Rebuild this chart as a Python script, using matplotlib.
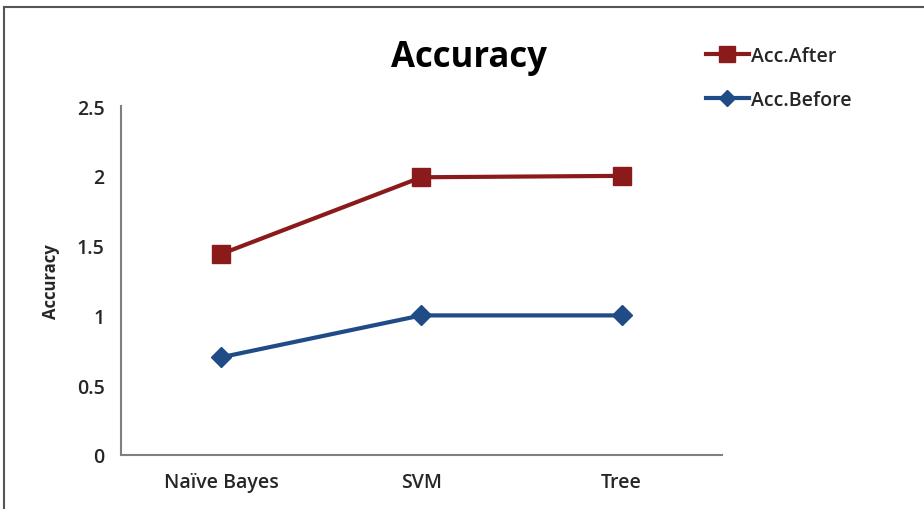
import matplotlib.pyplot as plt
from matplotlib.lines import Line2D

classifiers = ["Naïve Bayes", "SVM", "Tree"]
acc_after = [1.44, 1.99, 2.0]
acc_before = [0.70, 1.00, 1.00]
y_ticks = [0, 0.5, 1, 1.5, 2, 2.5]
y_tick_labels = ["0", "0.5", "1", "1.5", "2", "2.5"]

AFTER_COLOR = "#8b1a1a"
BEFORE_COLOR = "#1f4b86"
TEXT_COLOR = "#262626"
FONT = ["Open Sans", "DejaVu Sans"]

plt.rcParams["font.family"] = FONT

fig = plt.figure(figsize=(9.24, 5.10), dpi=100)
ax = fig.add_axes([0.131, 0.106, 0.650, 0.684])

x = list(range(len(classifiers)))
ax.plot(x, acc_after, color=AFTER_COLOR, linewidth=3, marker="s",
        markersize=13, label="Acc.After", zorder=3)
ax.plot(x, acc_before, color=BEFORE_COLOR, linewidth=3, marker="D",
        markersize=10, label="Acc.Before", zorder=3)

ax.set_xlim(-0.5, len(classifiers) - 0.5)
ax.set_ylim(0, 2.5)
ax.set_xticks(x)
ax.set_xticklabels(classifiers, fontsize=14, fontweight="semibold", color=TEXT_COLOR)
ax.set_yticks(y_ticks)
ax.set_yticklabels(y_tick_labels, fontsize=14, fontweight="semibold", color=TEXT_COLOR)
ax.tick_params(axis="both", length=0)
ax.tick_params(axis="x", pad=12)
ax.tick_params(axis="y", pad=12)

for side in ["top", "right"]:
    ax.spines[side].set_visible(False)
for side in ["left", "bottom"]:
    ax.spines[side].set_color("#7f7f7f")
    ax.spines[side].set_linewidth(1.5)

ax.set_ylabel("Accuracy", fontsize=12, fontweight="bold", color=TEXT_COLOR, labelpad=12)

fig.text(0.508, 0.886, "Accuracy", ha="center", va="center", fontsize=25,
         fontweight="bold", color="black")

handles = [
    Line2D([], [], color=AFTER_COLOR, linewidth=3, marker="s", markersize=11),
    Line2D([], [], color=BEFORE_COLOR, linewidth=3, marker="D", markersize=8),
]
legend = fig.legend(handles, ["Acc.After", "Acc.Before"], loc="upper left",
                    bbox_to_anchor=(0.745, 0.943), frameon=False, fontsize=14,
                    handlelength=2.2, handletextpad=0.1, labelspacing=1.25,
                    labelcolor=TEXT_COLOR)
for text in legend.get_texts():
    text.set_fontweight("semibold")

# frame around the chart area (left and top edges visible)
fig.add_artist(Line2D([0.004, 0.004], [0, 0.984], color="#555555", linewidth=1.5,
                      transform=fig.transFigure))
fig.add_artist(Line2D([0.004, 1.0], [0.984, 0.984], color="#555555", linewidth=1.5,
                      transform=fig.transFigure))

fig.savefig("out.png", dpi=100)
